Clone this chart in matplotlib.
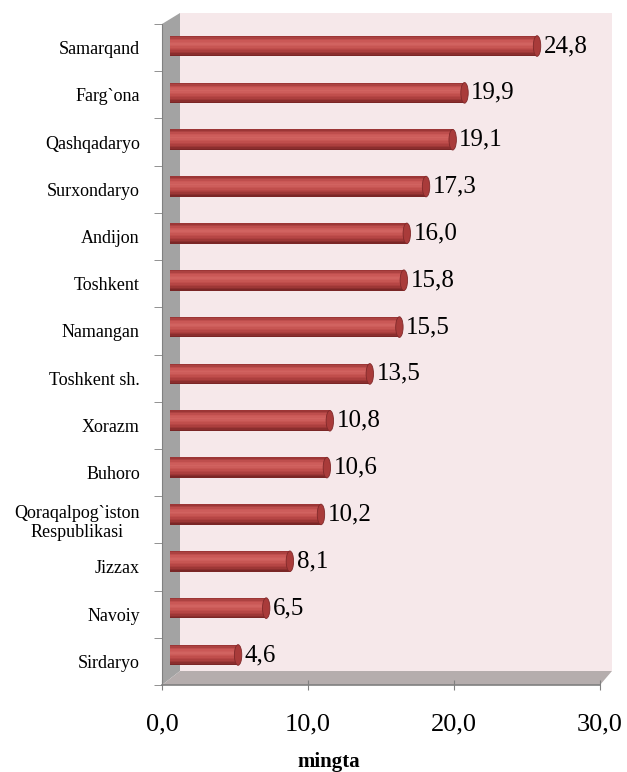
import matplotlib.pyplot as plt
from matplotlib.patches import Polygon, Ellipse
from matplotlib.colors import LinearSegmentedColormap

# ma'lumotlar (yuqoridan pastga)
regions = ["Samarqand", "Farg`ona", "Qashqadaryo", "Surxondaryo", "Andijon",
           "Toshkent", "Namangan", "Toshkent sh.", "Xorazm", "Buhoro",
           "Qoraqalpog`iston\nRespublikasi", "Jizzax", "Navoiy", "Sirdaryo"]
values = [24.8, 19.9, 19.1, 17.3, 16.0, 15.8, 15.5, 13.5, 10.8, 10.6,
          10.2, 8.1, 6.5, 4.6]
xticks = [0, 10, 20, 30]

plt.rcParams['font.family'] = ['Liberation Serif', 'DejaVu Serif']

W, H = 627, 772
fig = plt.figure(figsize=(W / 100, H / 100), dpi=100)


def box(x0, y0, x1, y1):
    # pikseldan figura koordinatalariga
    return [x0 / W, 1 - y1 / H, (x1 - x0) / W, (y1 - y0) / H]


def pt(x, y):
    return (x / W, 1 - y / H)


# 3D devorlar
fig.patches.append(Polygon([pt(180, 13), pt(612, 13), pt(612, 671), pt(180, 671)],
                           closed=True, transform=fig.transFigure,
                           facecolor="#f6e8ea", edgecolor="none", zorder=-5))
fig.patches.append(Polygon([pt(162, 24), pt(180, 13), pt(180, 671), pt(162, 685)],
                           closed=True, transform=fig.transFigure,
                           facecolor="#a3a3a3", edgecolor="none", zorder=-5))
fig.patches.append(Polygon([pt(162, 685), pt(600, 685), pt(612, 671), pt(180, 671)],
                           closed=True, transform=fig.transFigure,
                           facecolor="#b5adad", edgecolor="none", zorder=-5))

n = len(regions)
ypos = list(range(n))

# old o'q (o'qlar va yozuvlar)
ax = fig.add_axes(box(162, 24, 600, 685))
ax.patch.set_alpha(0)
ax.set_zorder(2)
ax.set_xlim(0, 30)
ax.set_ylim(n - 0.5, -0.5)
ax.set_xticks(xticks)
ax.set_xticklabels([f"{t:.1f}".replace(".", ",") for t in xticks], fontsize=19)
ax.set_yticks(ypos)
ax.set_yticklabels(regions, fontsize=13, multialignment="center")
ax.set_yticks([i - 0.5 for i in range(n + 1)], minor=True)
ax.tick_params(axis="y", which="major", length=0, pad=16)
ax.tick_params(axis="y", which="minor", length=6, color="#808080", direction="out")
ax.tick_params(axis="x", length=7, color="#808080", direction="inout", pad=17)
for s in ["top", "right"]:
    ax.spines[s].set_visible(False)
ax.spines["left"].set_color("#808080")
ax.spines["bottom"].set_color("#808080")
ax.spines["bottom"].set_linewidth(1.2)

# ustunlar o'qi (orqaroqda)
axb = fig.add_axes(box(170, 22.6, 614, 678.4))
axb.set_zorder(1)
axb.set_xlim(0, 30)
axb.set_ylim(n - 0.5, -0.5)
axb.axis("off")

# silindr soyasi: pastdan tepaga
shade = LinearSegmentedColormap.from_list(
    "cyl", ["#7a2626", "#a83c3b", "#c24f4d", "#d26461", "#c85654", "#9c3636"])
h = 0.44
m = 14
for k in range(m):
    off = h / 2 - (k + 0.5) * h / m
    axb.barh([y + off for y in ypos], values, height=h / m * 1.05,
             color=shade(k / (m - 1)), linewidth=0, zorder=2)
for y, v in zip(ypos, values):
    axb.add_patch(Ellipse((v, y), 0.5, h, facecolor="#a93b3a",
                          edgecolor="#80292a", linewidth=0.6, zorder=5))
    axb.text(v + 0.45, y, f"{v:.1f}".replace(".", ","), fontsize=18,
             va="center", ha="left", zorder=6)

fig.text(329 / W, 1 - 762 / H, "mingta", fontsize=15, fontweight="bold",
         ha="center", va="center")

fig.savefig("out.png", dpi=100)
